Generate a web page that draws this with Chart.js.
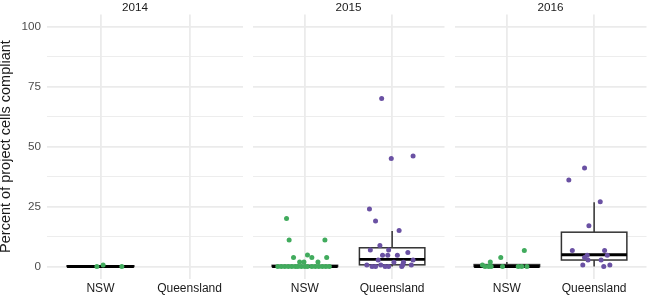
<!DOCTYPE html>
<html><head><meta charset="utf-8">
<script src="https://cdn.jsdelivr.net/npm/chart.js@4.4.1/dist/chart.umd.min.js"></script>
<style>
html,body{margin:0;padding:0;background:#fff;width:649px;height:295px;overflow:hidden}
#wrap{position:relative;width:649px;height:295px}
canvas{position:absolute;top:0}
</style></head>
<body><div id="wrap">
<canvas id="c0" width="270" height="295" style="left:0"></canvas>
<canvas id="c1" width="197" height="295" style="left:250px"></canvas>
<canvas id="c2" width="197" height="295" style="left:452px"></canvas>
</div>
<script>
// ---- data ----
const years = ['2014', '2015', '2016'];
const categories = ['NSW', 'Queensland'];
const yTickLabels = [0, 25, 50, 75, 100];
const yMinorTicks = [12.5, 37.5, 62.5, 87.5];

// jittered points: x = category position (1 = NSW, 2 = Queensland) incl. jitter, y = percent
const nsw2014X = [0.96, 1.03, 1.24];
const nsw2014Y = [0, 0.6, 0];
const qld2014X = [];
const qld2014Y = [];

const nsw2015X = [0.79, 0.82, 1.23, 0.87, 1.03, 1.08, 1.25, 0.94, 0.99, 1.15,
                  0.69, 0.73, 0.77, 0.81, 0.85, 0.89, 0.92, 0.96, 1.00, 1.03, 1.08, 1.12, 1.16, 1.20, 1.24, 1.28];
const nsw2015Y = [20, 11, 11, 3.7, 4.8, 3.7, 3.7, 1.9, 1.9, 1.9,
                  0, 0, 0, 0, 0, 0, 0, 0, 0, 0, 0, 0, 0, 0, 0, 0];
const qld2015X = [1.88, 1.99, 2.24, 1.74, 1.81, 2.08, 1.75, 1.86, 1.96, 2.18, 1.89, 1.95, 2.06,
                  1.84, 2.02, 2.13, 2.24, 1.71, 1.87, 2.12, 2.22, 1.77, 1.81, 1.92, 1.96, 2.11];
const qld2015Y = [70, 45, 46, 24, 19, 15, 6.9, 8.7, 6.9, 5.8, 4.7, 4.7, 4.7,
                  2.7, 1.75, 1.75, 2.7, 0.6, 0.6, 0.6, 0.6, 0, 0, 0, 0, 0];

const nsw2016X = [1.20, 0.93, 0.81, 0.72, 0.75, 0.79, 0.82, 0.95, 1.13, 1.17, 1.23];
const nsw2016Y = [6.7, 3.8, 1.9, 0.6, 0, 0, 0, 0, 0, 0, 0];
const qld2016X = [1.89, 1.71, 2.07, 1.94, 1.75, 2.12, 2.15, 1.92, 1.89, 1.93, 2.08, 1.87, 2.18, 2.11];
const qld2016Y = [41, 36, 27, 17, 6.7, 6.7, 4.7, 4.7, 3.7, 2.7, 2.7, 0.6, 0.6, 0];

// box statistics [lower whisker, Q1, median, Q3, upper whisker]
const box2014 = [[0, 0, 0, 0.3, 0.6], null];
const box2015 = [[0, 0, 0, 0.5, 0.5], [0, 0.7, 3, 7.8, 14.8]];
const box2016 = [[0, 0, 0, 0.8, 1.9], [0, 2.7, 4.9, 14.3, 26.8]];

// ---- chart ----
const GREEN = '#41ab5d';
const PURPLE = '#6a51a3';
const FONT = 'Liberation Sans, Arial, Helvetica, sans-serif';

function toPts(xs, ys) { return xs.map((x, i) => ({x: x, y: ys[i]})); }

function boxPlugin(stats, stripSpan) {
  return {
    id: 'boxes',
    afterLayout(chart) {
      if (stripSpan && chart.titleBlock) {
        chart.titleBlock.left = stripSpan[0];
        chart.titleBlock.right = stripSpan[1];
      }
    },
    beforeDatasetsDraw(chart) {
      const xs = chart.scales.x, ys = chart.scales.y, ctx = chart.ctx;
      stats.forEach((s, i) => {
        if (!s) return;
        const c = i + 1;
        const xc = xs.getPixelForValue(c);
        const xl = xs.getPixelForValue(c - 0.375);
        const xr = xs.getPixelForValue(c + 0.375);
        const [lo, q1, med, q3, hi] = s.map(v => ys.getPixelForValue(v));
        ctx.save();
        ctx.strokeStyle = '#333333';
        ctx.lineWidth = 1.5;
        ctx.beginPath();
        ctx.moveTo(xc, q3); ctx.lineTo(xc, hi);
        ctx.moveTo(xc, q1); ctx.lineTo(xc, lo);
        ctx.stroke();
        ctx.fillStyle = '#ffffff';
        ctx.fillRect(xl, q3, xr - xl, q1 - q3);
        ctx.strokeRect(xl, q3, xr - xl, q1 - q3);
        ctx.strokeStyle = '#000000';
        ctx.lineWidth = 2.8;
        ctx.beginPath();
        ctx.moveTo(xl, med); ctx.lineTo(xr, med);
        ctx.stroke();
        ctx.restore();
      });
    }
  };
}

function makeChart(id, idx, nswPts, qldPts, stats) {
  const showY = idx === 0;
  const gridVals = yTickLabels.concat(yMinorTicks).sort((a, b) => a - b);
  return new Chart(document.getElementById(id), {
    type: 'scatter',
    data: {
      datasets: [
        {data: nswPts, backgroundColor: GREEN, borderWidth: 0, pointRadius: 2.5, pointHoverRadius: 2.5},
        {data: qldPts, backgroundColor: PURPLE, borderWidth: 0, pointRadius: 2.5, pointHoverRadius: 2.5}
      ]
    },
    options: {
      responsive: false,
      animation: false,
      events: [],
      devicePixelRatio: 1,
      layout: {padding: {left: 0, right: showY ? 27 : 0, top: 0, bottom: 0}},
      plugins: {
        legend: {display: false},
        tooltip: {enabled: false},
        title: {display: true, text: years[idx], fullSize: true, color: '#1a1a1a',
                font: {family: FONT, size: 11.7, weight: 'normal'}, padding: {top: 0.5, bottom: 0}}
      },
      scales: {
        x: {
          type: 'linear', min: 0.4, max: 2.6,
          afterBuildTicks: s => { s.ticks = categories.map((c, i) => ({value: i + 1})); },
          ticks: {callback: v => categories[v - 1], color: '#1a1a1a', font: {family: FONT, size: 12},
                  padding: 3, autoSkip: false, maxRotation: 0},
          grid: {color: '#ebebeb', lineWidth: 1.8, drawTicks: false},
          border: {display: false},
          afterFit: s => { s.height = 16.5; }
        },
        y: {
          type: 'linear', min: -5, max: 105,
          afterBuildTicks: s => { s.ticks = gridVals.map(v => ({value: v})); },
          ticks: {display: showY, callback: v => yTickLabels.includes(v) ? String(v) : '',
                  color: '#4d4d4d', font: {family: FONT, size: 11.7}, padding: 6, autoSkip: false},
          grid: {color: '#ebebeb', lineWidth: c => (yTickLabels.includes(c.tick.value) ? 1.8 : 0.9), drawTicks: false},
          border: {display: false},
          title: {display: showY, text: 'Percent of project cells compliant', color: '#1a1a1a',
                  font: {family: FONT, size: 14.5}, padding: {top: -3, bottom: 0}},
          afterFit: s => { s.width = showY ? 47 : 0; }
        }
      }
    },
    plugins: [boxPlugin(stats, showY ? [27, 243] : null)]
  });
}

makeChart('c0', 0, toPts(nsw2014X, nsw2014Y), toPts(qld2014X, qld2014Y), box2014);
makeChart('c1', 1, toPts(nsw2015X, nsw2015Y), toPts(qld2015X, qld2015Y), box2015);
makeChart('c2', 2, toPts(nsw2016X, nsw2016Y), toPts(qld2016X, qld2016Y), box2016);
</script>
</body></html>
